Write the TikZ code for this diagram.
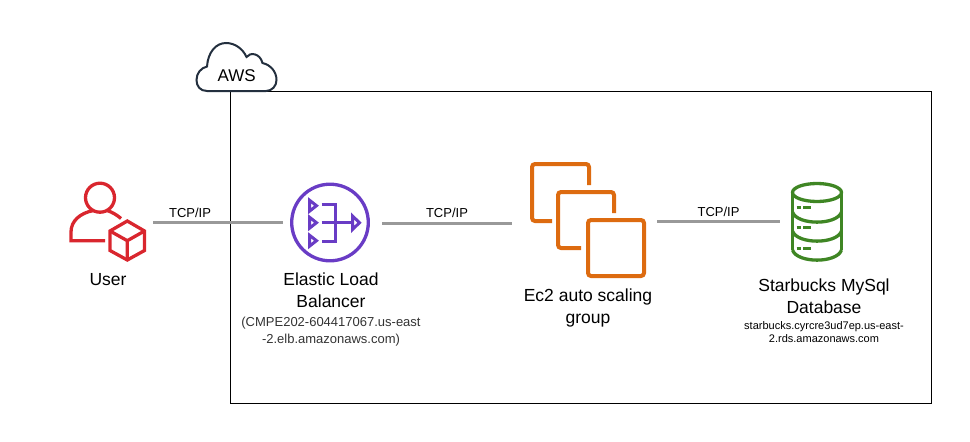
\documentclass[tikz,border=0pt]{standalone}
\usepackage{fontspec}
\setmainfont{Liberation Sans}
\usetikzlibrary{positioning}
\definecolor{userred}{HTML}{D9262E}
\definecolor{elbpurple}{HTML}{693CC5}
\definecolor{ecorange}{HTML}{DD6B10}
\definecolor{dbgreen}{HTML}{3F8624}
\definecolor{cloudink}{HTML}{232F3E}
\tikzset{iconbox/.style={inner sep=0, outer sep=#1, minimum width=0}}
\tikzset{arr/.style={draw, line width=3pt, color=black!40}}
\tikzset{protolabel/.style={inner sep=0, font=\fontsize{13}{15}\selectfont}}
\tikzset{biglabel/.style={inner sep=0, align=center, font=\fontsize{17.5}{22}\selectfont}}
\tikzset{smalllabel/.style={inner sep=0, align=center, text=black!80, font=\fontsize{13}{17}\selectfont}}
\tikzset{tinylabel/.style={inner sep=0, align=center, font=\fontsize{11}{13}\selectfont}}
\tikzset{pen/.style={draw=#1, line width=3.3pt, line join=miter}}
\begin{document}
\begin{tikzpicture}[x=1pt, y=-1pt]
	\useasboundingbox (0,0) rectangle (970,442);
	\node[draw, line width=1pt, minimum width=700.5pt, minimum height=311.5pt, inner sep=0, anchor=north west] (awsbox) at (230,91) {};
	%
	\node[iconbox=7pt, minimum width=76pt, minimum height=78pt] (user) at (108,222) {};
	\node[iconbox=9.5pt, minimum width=80pt, minimum height=80pt] (elb) at (332.5,222) {};
	\node[iconbox=14.5pt, minimum width=116pt, minimum height=116pt] (ec2) at (584.5,220) {};
	\node[iconbox=11pt, minimum width=52pt, minimum height=78pt] (db) at (817,222) {};
	%
	\draw[fill=white, draw=cloudink, line width=2pt] (207,91) .. controls (200,91) and (196.5,86) .. (196.5,80)
		.. controls (196.5,73) and (201,68) .. (207,66.5)
		.. controls (208,52) and (216,43) .. (226,43)
		.. controls (235,43) and (243,49) .. (246.5,57)
		.. controls (250,52) and (260,53) .. (262.5,63)
		.. controls (271,65) and (276.5,72) .. (276.5,80)
		.. controls (276.5,86) and (272,91) .. (266,91) -- cycle;
	\node[inner sep=0, font=\fontsize{17}{20}\selectfont] (awstext) at (236.7,75.5) {AWS};
	% user
	\draw[pen=userred] (100,197.7) circle (14.5);
	\draw[pen=userred] (93.5,210.5) .. controls (80,213) and (71,221) .. (71,232) -- (71,240.7) -- (105,240.7);
	\draw[pen=userred] (107,210.5) .. controls (112,212) and (117,215) .. (121,218.5);
	\draw[pen=userred] (127.3,221) -- (144.5,231) -- (144.5,250.5) -- (127.3,260) -- (110,250.5) -- (110,231) -- cycle;
	\draw[pen=userred] (110,231) -- (127.3,240.7) -- (144.5,231) (127.3,240.7) -- (127.3,260);
	% load balancer
	\draw[pen=elbpurple] (330,222.5) circle (38.3);
	\foreach \yy in {205.7,222.7,240.7}
		\draw[pen=elbpurple, line width=3pt] (309.5,\yy-5.5) -- (316.5,\yy) -- (309.5,\yy+5.5) -- cycle;
	\draw[pen=elbpurple, line width=3pt] (321.5,204) -- (335,204) -- (335,241.5) -- (321.5,241.5);
	\draw[pen=elbpurple, line width=3pt] (321.5,222.7) -- (352,222.7);
	\draw[pen=elbpurple, line width=3pt] (352.5,216) -- (359.5,222.7) -- (352.5,229.5) -- cycle;
	% auto scaling group
	\draw[pen=ecorange, line width=4pt, rounded corners=3pt] (589,185) -- (589,164) -- (532,164) -- (532,221) -- (552,221);
	\draw[pen=ecorange, line width=4pt, rounded corners=3pt] (614,213) -- (614,192) -- (558,192) -- (558,248) -- (581,248);
	\draw[pen=ecorange, line width=4pt, rounded corners=3pt] (588,220) rectangle (644,276);
	% database
	\draw[pen=dbgreen] (817,192.5) ellipse (24.5 and 9);
	\draw[pen=dbgreen] (792.5,192.5) -- (792.5,250) (841.5,192.5) -- (841.5,250);
	\draw[pen=dbgreen] (792.5,212) .. controls (797,225.5) and (837,225.5) .. (841.5,212);
	\draw[pen=dbgreen] (792.5,231) .. controls (797,244.5) and (837,244.5) .. (841.5,231);
	\draw[pen=dbgreen] (792.5,250) .. controls (797,263.5) and (837,263.5) .. (841.5,250);
	\foreach \yy in {207.7,227.7,248.3}
		\draw[dbgreen, line width=3pt] (796.7,\yy) -- (801.3,\yy) (803.3,\yy) -- (811,\yy);
	%
	\draw[arr] (user) -- (elb) node[pos=0.285, above=3pt, protolabel, text=black] {TCP/IP};
	\draw[arr] ([yshift=-1pt]elb.east) -- ([yshift=-3pt]ec2.west) node[pos=0.5, above=4pt, protolabel, text=black] {TCP/IP};
	\draw[arr] ([yshift=-1pt]ec2.east) -- ([yshift=1pt]db.west) node[pos=0.5, above=3pt, protolabel, text=black] {TCP/IP};
	%
	\node[biglabel, below=5pt of user.south] (userlabel) {User};
	\node[biglabel] (elblabel) at (331,290.5) {Elastic Load\\Balancer};
	\node[smalllabel, below=9pt of elblabel] (elbhost) {(CMPE202-604417067.us-east\\-2.elb.amazonaws.com)};
	\node[biglabel] (eclabel) at (588,307.5) {Ec2 auto scaling\\group};
	\node[biglabel] (dblabel) at (824,296.5) {Starbucks MySql\\Database};
	\node[tinylabel, below=7pt of dblabel] (dbhost) {starbucks.cyrcre3ud7ep.us-east-\\2.rds.amazonaws.com};
\end{tikzpicture}
\end{document}
